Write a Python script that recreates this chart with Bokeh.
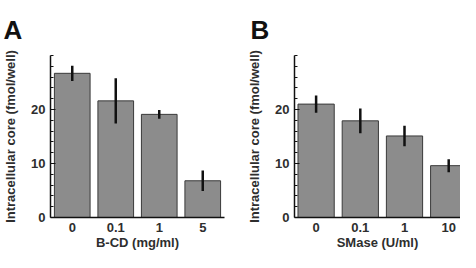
from bokeh.plotting import figure
from bokeh.layouts import row
from bokeh.models import Range1d, FixedTicker
from bokeh.embed import file_html
from bokeh.resources import INLINE

# ---- data ----
cats_a = ["0", "0.1", "1", "5"]
vals_a = [26.7, 21.6, 19.1, 6.8]
err_a = [1.4, 4.2, 0.8, 1.9]
xlabel_a = "B-CD (mg/ml)"

cats_b = ["0", "0.1", "1", "10"]
vals_b = [21.0, 17.9, 15.1, 9.6]
err_b = [1.6, 2.3, 1.9, 1.2]
xlabel_b = "SMase (U/ml)"

ylabel = "Intracellular core (fmol/well)"
y_ticks = [0, 10, 20]
y_minor = [2, 4, 6, 8, 12, 14, 16, 18, 22, 24, 26, 28, 30]

FONT = "Liberation Sans"
TXT = "#2e2e2e"


def panel(cats, vals, errs, xlabel, letter, width, left, right, xr, title_offset):
    p = figure(width=width, height=252, output_backend="svg", toolbar_location=None,
               x_range=Range1d(*xr), y_range=Range1d(0, 30),
               min_border_left=left, min_border_right=right,
               min_border_top=55, min_border_bottom=35)
    p.outline_line_color = None
    p.background_fill_color = "white"
    p.border_fill_color = "white"
    p.xgrid.visible = False
    p.ygrid.visible = False

    p.title.text = letter
    p.title.align = "left"
    p.title.offset = title_offset
    p.title.standoff = 22
    p.title.text_font = FONT
    p.title.text_font_style = "bold"
    p.title.text_font_size = "26px"
    p.title.text_color = "#111111"

    xs = list(range(len(cats)))
    p.vbar(x=xs, top=vals, width=0.82, bottom=0,
           fill_color="#8c8c8c", line_color="#3a3a3a", line_width=1)
    lo = [v - e for v, e in zip(vals, errs)]
    hi = [v + e for v, e in zip(vals, errs)]
    p.segment(x0=xs, y0=lo, x1=xs, y1=hi, line_color="#111111", line_width=2.5)

    xa = p.xaxis[0]
    xa.ticker = FixedTicker(ticks=xs)
    xa.major_label_overrides = {i: c for i, c in enumerate(cats)}
    xa.major_tick_in = 0
    xa.major_tick_out = 0
    xa.minor_tick_in = 0
    xa.minor_tick_out = 0
    xa.axis_line_color = "#111111"
    xa.axis_line_width = 1.5
    xa.major_label_text_font = FONT
    xa.major_label_text_font_style = "bold"
    xa.major_label_text_font_size = "13px"
    xa.major_label_text_color = TXT
    xa.major_label_standoff = 5
    xa.axis_label = xlabel
    xa.axis_label_text_font = FONT
    xa.axis_label_text_font_style = "bold"
    xa.axis_label_text_font_size = "13px"
    xa.axis_label_text_color = TXT
    xa.axis_label_standoff = 0

    ya = p.yaxis[0]
    ya.ticker = FixedTicker(ticks=y_ticks, minor_ticks=y_minor)
    ya.major_tick_in = 5
    ya.major_tick_out = 0
    ya.minor_tick_in = 3
    ya.minor_tick_out = 0
    ya.major_tick_line_color = "#111111"
    ya.minor_tick_line_color = "#111111"
    ya.axis_line_color = "#111111"
    ya.axis_line_width = 1.5
    ya.major_label_text_font = FONT
    ya.major_label_text_font_style = "bold"
    ya.major_label_text_font_size = "13px"
    ya.major_label_text_color = TXT
    ya.major_label_standoff = 5
    ya.axis_label = ylabel
    ya.axis_label_text_font = FONT
    ya.axis_label_text_font_style = "bold"
    ya.axis_label_text_font_size = "13px"
    ya.axis_label_text_color = TXT
    ya.axis_label_standoff = 10
    return p


pa = panel(cats_a, vals_a, err_a, xlabel_a, "A", 244, 48, 20, (-0.5, 3.5), -47)
pb = panel(cats_b, vals_b, err_b, xlabel_b, "B", 216, 47, 0, (-0.489, 3.267), -44)

layout = row(pa, pb)
open("out.html", "w").write(file_html(layout, INLINE))
